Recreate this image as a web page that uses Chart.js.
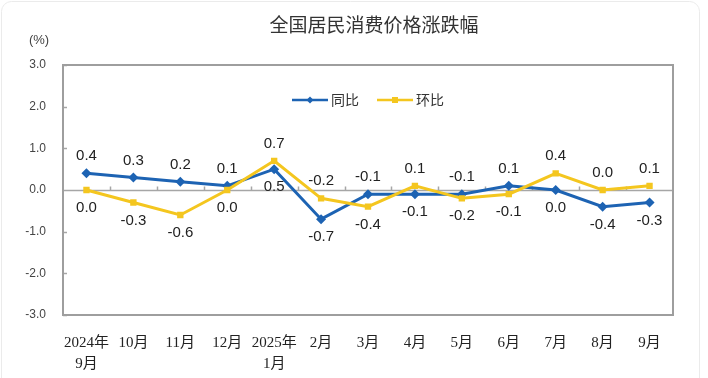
<!DOCTYPE html>
<html lang="zh-CN">
<head>
  <meta charset="UTF-8" />
  <title>全国居民消费价格涨跌幅</title>
  <script src="https://cdn.jsdelivr.net/npm/chart.js"></script>
  <style>
    html, body { margin: 0; padding: 0; background: #fff; }
    canvas { display: block; }
  </style>
</head>
<body>
  <canvas id="cpiChart" width="708" height="378"></canvas>

  <script>
    // values
    const months = [['2024年', '9月'], '10月', '11月', '12月', ['2025年', '1月'], '2月', '3月', '4月', '5月', '6月', '7月', '8月', '9月'];
    const yoy = [0.4, 0.3, 0.2, 0.1, 0.5, -0.7, -0.1, -0.1, -0.1, 0.1, 0.0, -0.4, -0.3];   // 同比
    const mom = [0.0, -0.3, -0.6, 0.0, 0.7, -0.2, -0.4, 0.1, -0.2, -0.1, 0.4, 0.0, 0.1];   // 环比
    const yTicks = [-3, -2, -1, 0, 1, 2, 3];

    const BLUE = '#1d63b3';
    const YELLOW = '#f4c61f';
    const AXIS = '#a6a6a6';
    const numFont = "'Liberation Sans', Arial, sans-serif";
    const cjkFont = "'Noto Sans CJK SC', 'Liberation Sans', sans-serif";

    // frame, zero line, small ticks, title
    const framePlugin = {
      id: 'frame',
      beforeDraw(chart) {
        const ctx = chart.ctx;
        ctx.save();
        ctx.strokeStyle = '#ebebeb';
        ctx.lineWidth = 1;
        ctx.beginPath();
        ctx.roundRect(1.5, 1.5, 698, 420, 10);
        ctx.stroke();

        ctx.fillStyle = '#333';
        ctx.font = '19px ' + cjkFont;
        ctx.textAlign = 'center';
        ctx.textBaseline = 'middle';
        ctx.fillText('全国居民消费价格涨跌幅', 374, 25);
        ctx.font = '13px ' + numFont;
        ctx.fillStyle = '#444';
        ctx.fillText('(%)', 39, 40);
        ctx.restore();
      },
      beforeDatasetsDraw(chart) {
        const { ctx, chartArea: a, scales: { y } } = chart;
        ctx.save();
        ctx.strokeStyle = AXIS;
        ctx.lineWidth = 1.5;
        const y0 = Math.round(y.getPixelForValue(0)) + 0.5;
        ctx.beginPath();
        ctx.moveTo(a.left, y0); ctx.lineTo(a.right, y0);
        // category boundary ticks on the zero line
        const step = (a.right - a.left) / months.length;
        for (let i = 1; i < months.length; i++) {
          const xx = Math.round(a.left + step * i) + 0.5;
          ctx.moveTo(xx, y0); ctx.lineTo(xx, y0 - 4);
        }
        // short inner ticks on the value axis
        yTicks.forEach(v => {
          const yy = Math.round(y.getPixelForValue(v)) + 0.5;
          ctx.moveTo(a.left, yy); ctx.lineTo(a.left + 4, yy);
        });
        ctx.stroke();

        ctx.lineWidth = 2;
        ctx.strokeStyle = '#9e9e9e';
        ctx.strokeRect(a.left, a.top, a.right - a.left, a.bottom - a.top);
        ctx.restore();
      }
    };

    // legend inside the plot: short line + marker + name
    const lineLegend = {
      id: 'lineLegend',
      afterDatasetsDraw(chart) {
        const ctx = chart.ctx;
        const items = [
          { x: 292, shape: 'diamond' },
          { x: 377, shape: 'square' }
        ];
        const ly = 100;
        ctx.save();
        ctx.font = '14px ' + cjkFont;
        ctx.textBaseline = 'middle';
        ctx.textAlign = 'left';
        chart.data.datasets.forEach((ds, i) => {
          const it = items[i];
          ctx.strokeStyle = ds.borderColor;
          ctx.fillStyle = ds.borderColor;
          ctx.lineWidth = 2.5;
          ctx.beginPath();
          ctx.moveTo(it.x, ly); ctx.lineTo(it.x + 36, ly);
          ctx.stroke();
          const cx = it.x + 18;
          ctx.beginPath();
          if (it.shape === 'diamond') {
            ctx.moveTo(cx, ly - 3.5); ctx.lineTo(cx + 3.5, ly); ctx.lineTo(cx, ly + 3.5); ctx.lineTo(cx - 3.5, ly); ctx.closePath();
          } else {
            ctx.rect(cx - 3, ly - 3, 6, 6);
          }
          ctx.fill();
          ctx.fillStyle = '#333';
          ctx.fillText(ds.label, it.x + 39, ly);
        });
        ctx.restore();
      }
    };

    // value labels: higher value above its point, lower one below
    const valueLabels = {
      id: 'valueLabels',
      afterDatasetsDraw(chart) {
        const ctx = chart.ctx;
        const blue = chart.getDatasetMeta(0).data;
        const yel = chart.getDatasetMeta(1).data;
        ctx.save();
        ctx.font = '15px ' + numFont;
        ctx.fillStyle = '#222';
        ctx.textAlign = 'center';
        ctx.textBaseline = 'middle';
        months.forEach((m, i) => {
          const blueUp = yoy[i] >= mom[i];
          const up = blueUp ? blue[i] : yel[i];
          const down = blueUp ? yel[i] : blue[i];
          const upVal = blueUp ? yoy[i] : mom[i];
          const downVal = blueUp ? mom[i] : yoy[i];
          ctx.fillText(upVal.toFixed(1), up.x, up.y - 17);
          ctx.fillText(downVal.toFixed(1), down.x, down.y + 18);
        });
        ctx.restore();
      }
    };

    new Chart(document.getElementById('cpiChart'), {
      type: 'line',
      data: {
        labels: months,
        datasets: [
          {
            label: '同比', data: yoy, order: 1,
            borderColor: BLUE, backgroundColor: BLUE, borderWidth: 3,
            pointStyle: 'rectRot', pointRadius: 5, pointBorderWidth: 0,
            pointBackgroundColor: BLUE, tension: 0
          },
          {
            label: '环比', data: mom, order: 0,
            borderColor: YELLOW, backgroundColor: YELLOW, borderWidth: 3,
            pointStyle: 'rect', pointRadius: 4.5, pointBorderWidth: 0,
            pointBackgroundColor: YELLOW, tension: 0
          }
        ]
      },
      options: {
        responsive: false,
        devicePixelRatio: 1,
        animation: false,
        layout: { padding: { left: 0, right: 35, top: 65, bottom: 0 } },
        plugins: {
          tooltip: { enabled: false },
          legend: { display: false }
        },
        scales: {
          x: {
            offset: true,
            grid: { display: false },
            border: { display: false },
            ticks: {
              color: '#222',
              padding: 10,
              maxRotation: 0,
              autoSkip: false,
              font: { size: 15, family: "'Liberation Serif', 'Noto Sans CJK SC', serif", lineHeight: 1.4 }
            },
            afterFit: s => { s.height = 63; }
          },
          y: {
            min: -3,
            max: 3,
            grid: { display: false, drawTicks: false },
            border: { display: false },
            afterBuildTicks: s => { s.ticks = yTicks.map(v => ({ value: v })); },
            ticks: {
              color: '#444',
              padding: 17,
              font: { size: 12, family: numFont },
              callback: v => Number(v).toFixed(1)
            },
            afterFit: s => { s.width = 63; }
          }
        }
      },
      plugins: [framePlugin, lineLegend, valueLabels]
    });
  </script>
</body>
</html>
